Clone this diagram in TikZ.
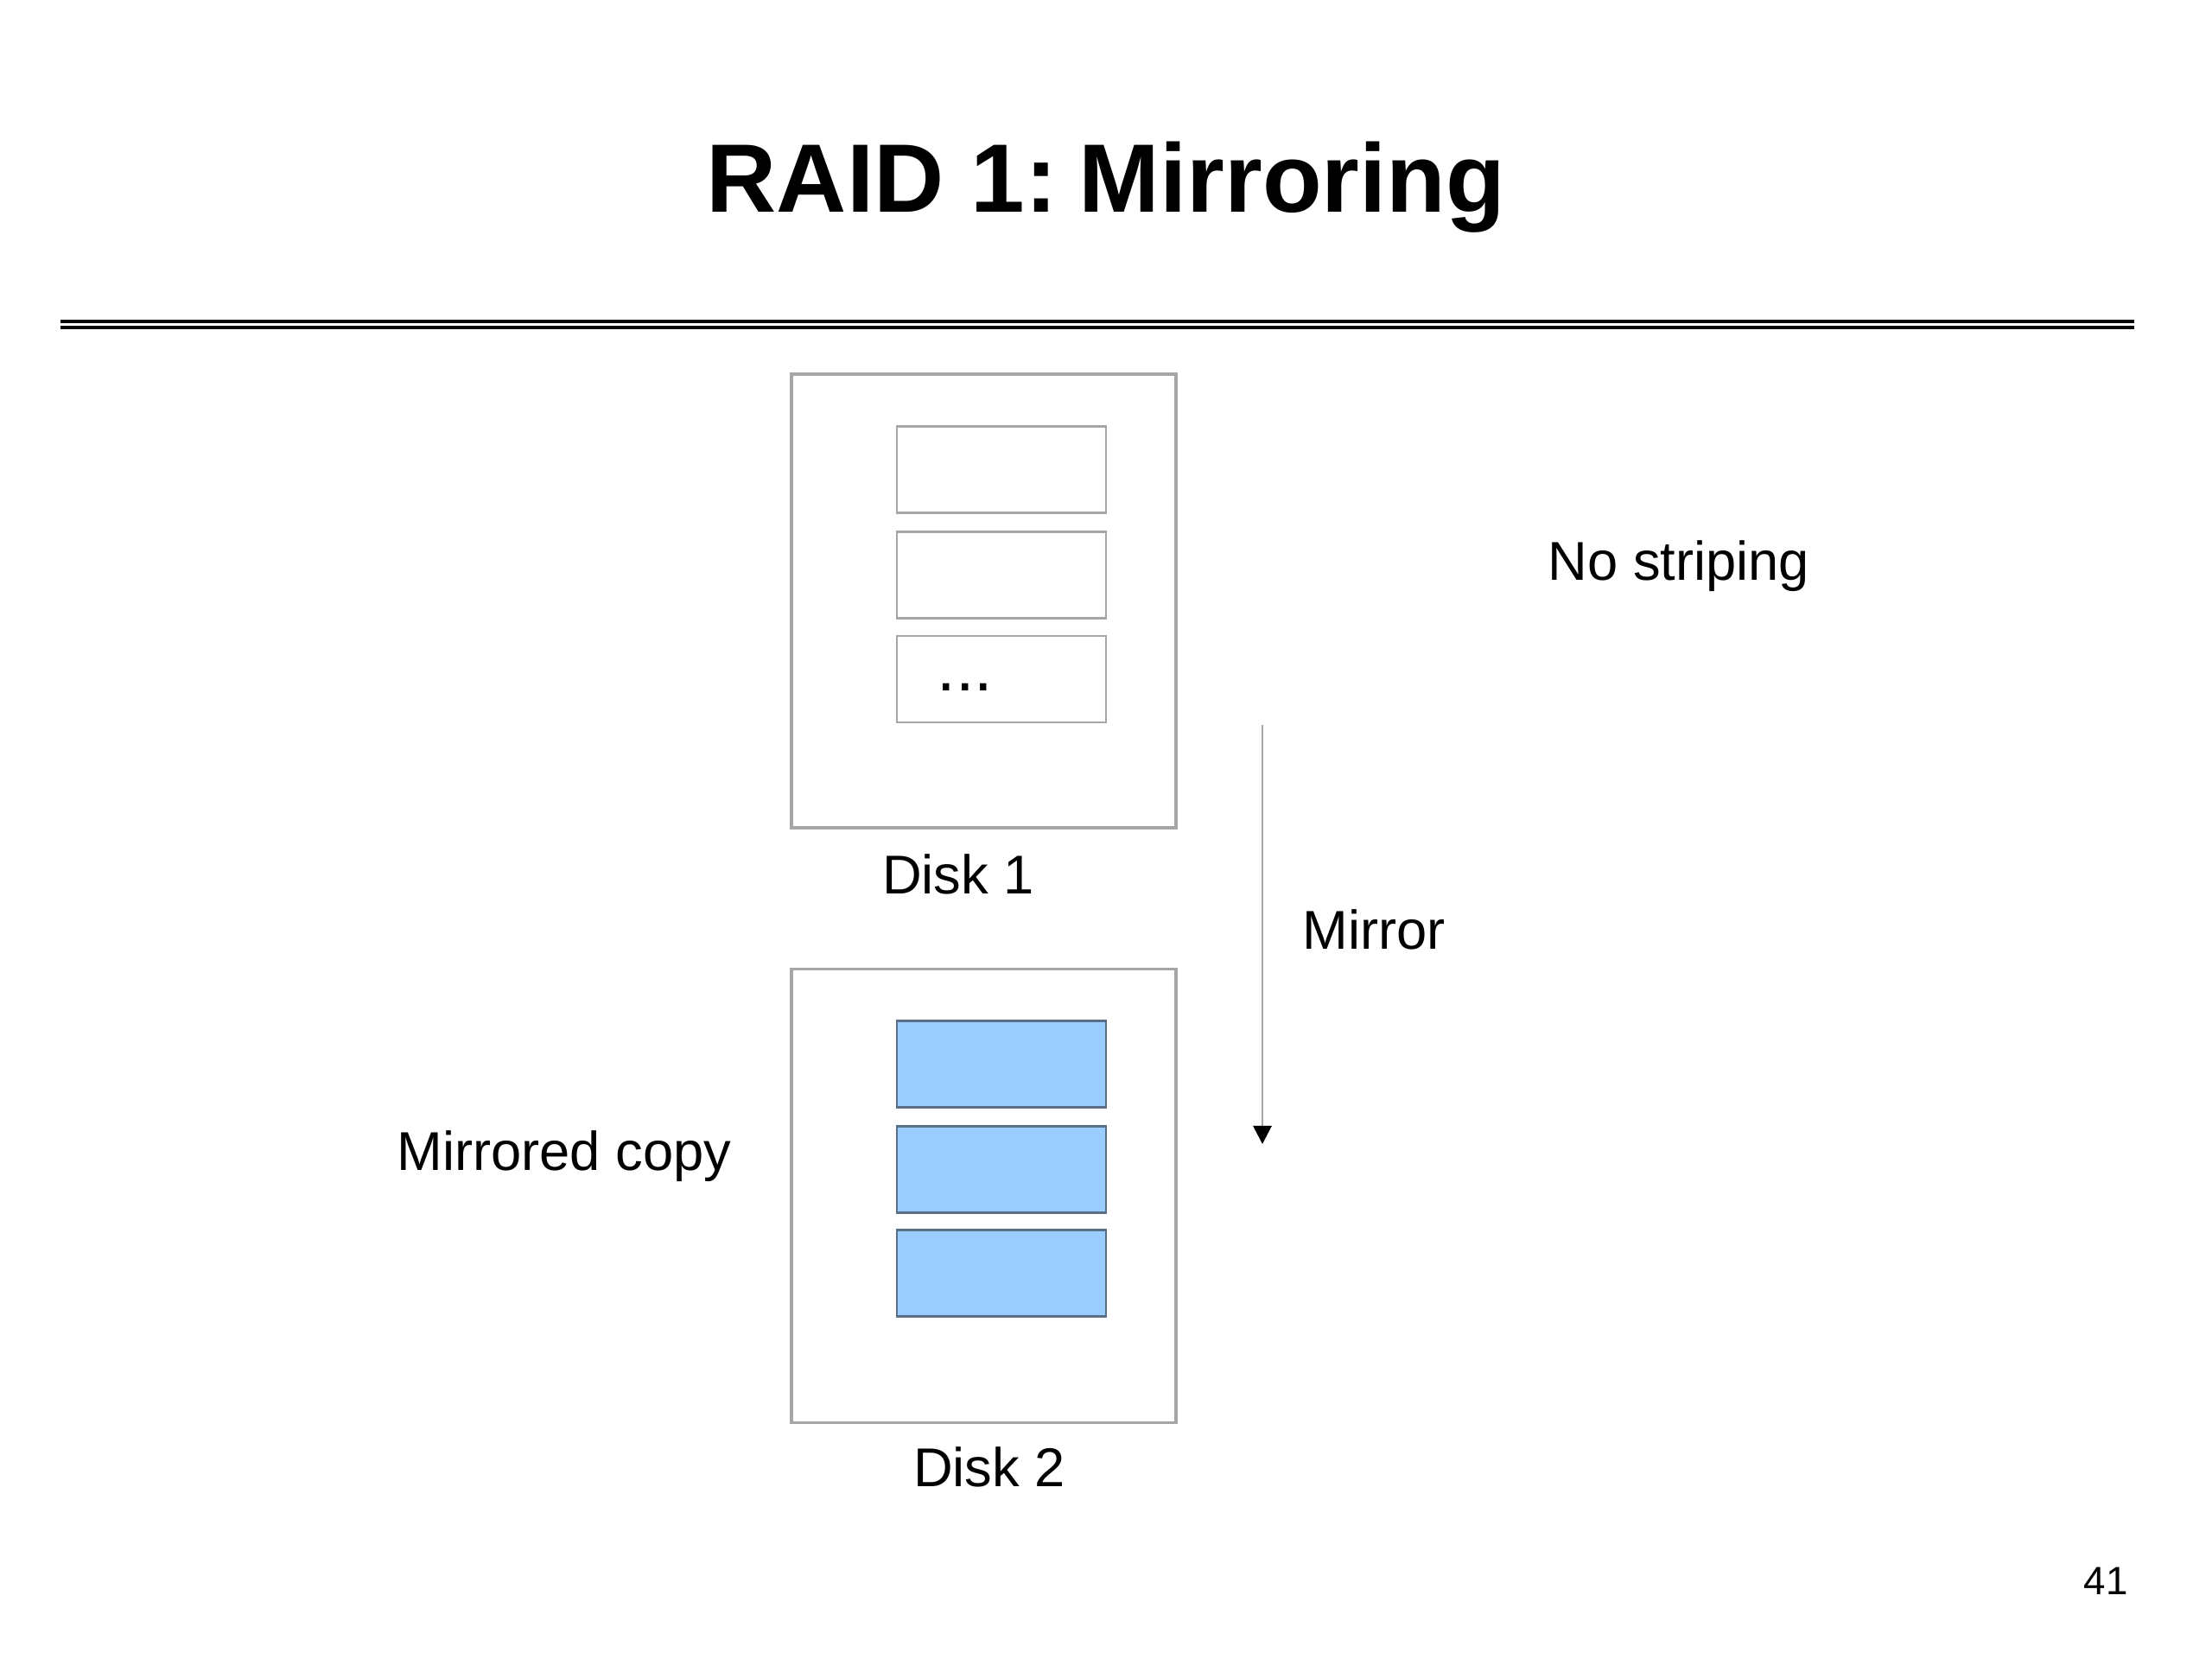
\documentclass[tikz,border=0pt]{standalone}
\usepackage{fontspec}
\setmainfont{Liberation Sans}
\usetikzlibrary{positioning,arrows.meta}
\definecolor{boxgray}{HTML}{A6A6A6}
\definecolor{copyblue}{HTML}{99CCFF}
\definecolor{copyedge}{HTML}{5A6F86}

\begin{document}
\begin{tikzpicture}[>=Stealth,
    disk/.style={draw=boxgray, line width=0.9pt, minimum width=4.45cm, minimum height=5.25cm},
    block/.style={draw=boxgray, line width=0.8pt, minimum width=2.42cm, minimum height=1.0cm},
    copyblock/.style={block, draw=copyedge, fill=copyblue},
    lbl/.style={font=\fontsize{18}{22}\selectfont, inner sep=0pt}]
    \useasboundingbox (0,0) rectangle (25.6,-19.2);

    % Title and double rule
    \node[font=\fontsize{32}{38}\selectfont\bfseries] (title) at (12.8,-2.17) {RAID 1:\hspace{-0.15em} Mirroring};
    \draw[line width=0.9pt] (0.7,-3.72) -- (24.7,-3.72);
    \draw[line width=0.9pt] (0.7,-3.79) -- (24.7,-3.79);

    % Disk 1 with its blocks
    \node[disk] (disk1) at (11.385,-6.955) {};
    \node[block] (d1a) at (11.59,-5.435) {};
    \node[block] (d1b) at (11.59,-6.655) {};
    \node[block] (d1c) at (11.59,-7.86) {};
    \node[lbl, font=\fontsize{22}{24}\selectfont] (dots) at (11.17,-7.95) {...};
    \node[lbl] (disk1lbl) at (11.09,-10.12) {Disk 1};

    % Disk 2 holds the mirrored copy
    \node[disk] (disk2) at (11.385,-13.84) {};
    \node[copyblock] (d2a) at (11.59,-12.315) {};
    \node[copyblock] (d2b) at (11.59,-13.535) {};
    \node[copyblock] (d2c) at (11.59,-14.735) {};
    \node[lbl] (disk2lbl) at (11.45,-16.98) {Disk 2};

    % Mirror arrow
    \coordinate (mtop) at (14.61,-8.39);
    \coordinate (mbot) at (14.61,-13.24);
    \draw[boxgray, line width=0.8pt, -{Triangle[length=6pt,width=6pt,black]}] (mtop) -- (mbot);
    \node[lbl, anchor=west] (mirror) at (15.07,-10.76) {Mirror};

    % Side labels
    \node[lbl, anchor=west] (nostripe) at (17.91,-6.55) {No striping};
    \node[lbl, anchor=west] (copylbl) at (4.59,-13.38) {Mirrored copy};
    \node[lbl, font=\fontsize{13}{15}\selectfont] (pagenum) at (24.37,-18.3) {41};
\end{tikzpicture}
\end{document}
